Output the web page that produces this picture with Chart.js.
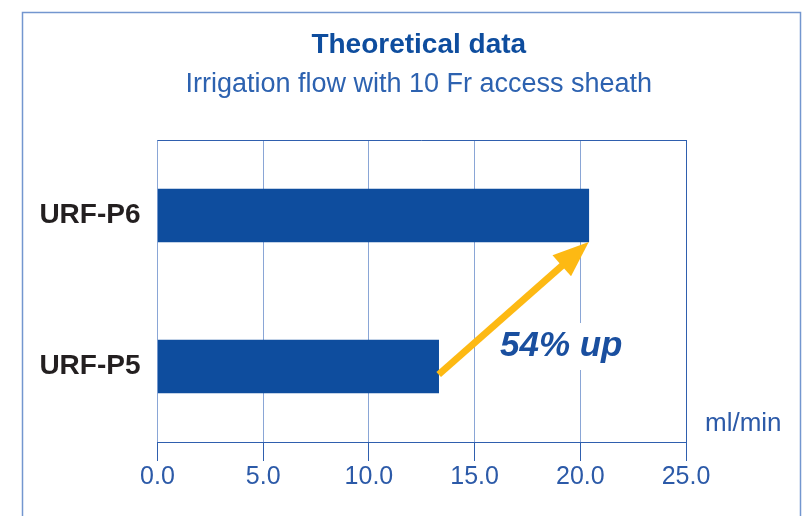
<!doctype html>
<html lang="en">
  <head>
    <meta charset="UTF-8" />
    <title>Irrigation flow</title>
    <script src="https://cdn.jsdelivr.net/npm/chart.js"></script>
    <style>
      html, body { margin: 0; padding: 0; background: #fff; }
      #wrap { width: 804px; height: 516px; }
    </style>
  </head>
  <body>
    <div id="wrap"><canvas id="flow"></canvas></div>

    <script>
      // values (ml/min)
      const categories = ["URF-P6", "URF-P5"];
      const flowValues = [20.4, 13.3];
      const xTickValues = [0, 5, 10, 15, 20, 25];
      const titleText = "Theoretical data";
      const subtitleText = "Irrigation flow with 10 Fr access sheath";
      const gainText = "54% up";
      const gainLabelAt = 16.2; // x value where the "54% up" text starts
      const unitText = "ml/min";

      const FONT = "'Liberation Sans', Arial, sans-serif";
      const BLUE = "#0e4d9e";
      const AXIS_BLUE = "#2f5fae";
      const GRID_BLUE = "#8aa6d6";
      const ORANGE = "#fdb913";

      const decor = {
        id: "decor",
        beforeDraw(chart) {
          const c = chart.ctx;
          c.save();
          c.fillStyle = "#fff";
          c.fillRect(0, 0, chart.width, chart.height);
          c.strokeStyle = "#7396cf";
          c.lineWidth = 1.5;
          c.strokeRect(22.5, 12.5, 778, 530);
          c.restore();
        },
        afterDatasetsDraw(chart) {
          const c = chart.ctx;
          const a = chart.chartArea;
          const x = chart.scales.x;
          const bars = chart.getDatasetMeta(0).data;
          const mid = (a.left + a.right) / 2;
          c.save();

          // titles, centred over the plot
          c.textAlign = "center";
          c.textBaseline = "middle";
          c.fillStyle = BLUE;
          c.font = "bold 28px " + FONT;
          c.fillText(titleText, mid - 3, a.top - 95);
          c.fillStyle = "#2d62b0";
          c.font = "27px " + FONT;
          c.fillText(subtitleText, mid - 3, a.top - 55);

          // top edge of the plot box
          c.strokeStyle = AXIS_BLUE;
          c.lineWidth = 1;
          c.beginPath();
          c.moveTo(a.left, a.top + 0.5);
          c.lineTo(a.right, a.top + 0.5);
          c.stroke();

          // "54% up" with a white patch behind it
          c.font = "italic bold 35px " + FONT;
          c.textAlign = "left";
          const tx = x.getPixelForValue(gainLabelAt);
          const ty = bars[1].y - bars[1].height / 2 + 6;
          const tw = c.measureText(gainText).width;
          c.fillStyle = "#fff";
          c.fillRect(tx - 3, ty - 23, tw + 8, 47);
          c.fillStyle = "#1a4f9f";
          c.fillText(gainText, tx, ty);

          // arrow from the P5 bar end to the P6 bar end
          const p0 = { x: bars[1].x, y: bars[1].y + 8 };
          const p1 = { x: bars[0].x, y: bars[0].y + bars[0].height / 2 };
          const ang = Math.atan2(p1.y - p0.y, p1.x - p0.x);
          const headLen = 36, headHalf = 14;
          const bx = p1.x - headLen * Math.cos(ang);
          const by = p1.y - headLen * Math.sin(ang);
          c.strokeStyle = ORANGE;
          c.fillStyle = ORANGE;
          c.lineWidth = 7;
          c.beginPath();
          c.moveTo(p0.x, p0.y);
          c.lineTo(bx + 2 * Math.cos(ang), by + 2 * Math.sin(ang));
          c.stroke();
          c.beginPath();
          c.moveTo(p1.x, p1.y);
          c.lineTo(bx + headHalf * Math.sin(ang), by - headHalf * Math.cos(ang));
          c.lineTo(bx - headHalf * Math.sin(ang), by + headHalf * Math.cos(ang));
          c.closePath();
          c.fill();

          // unit label
          c.font = "26px " + FONT;
          c.fillStyle = "#2c5aa8";
          c.fillText(unitText, a.right + 19, a.bottom - 18);
          c.restore();
        },
      };

      new Chart(document.getElementById("flow"), {
        type: "bar",
        data: {
          labels: categories,
          datasets: [
            {
              data: flowValues,
              backgroundColor: BLUE,
              borderWidth: 0,
              barThickness: 53,
            },
          ],
        },
        options: {
          indexAxis: "y",
          responsive: true,
          maintainAspectRatio: false,
          animation: false,
          layout: { padding: { left: 0, right: 118, top: 140, bottom: 24 } },
          plugins: {
            legend: { display: false },
            tooltip: { enabled: false },
          },
          scales: {
            x: {
              min: 0,
              max: 25,
              afterBuildTicks: (s) => {
                s.ticks = xTickValues.map((v) => ({ value: v }));
              },
              afterFit: (s) => {
                s.height = 50;
              },
              grid: {
                color: (ctx) =>
                  ctx.index === xTickValues.length - 1 ? AXIS_BLUE : GRID_BLUE,
                tickColor: AXIS_BLUE,
                tickLength: 19,
                lineWidth: 1,
              },
              border: { color: AXIS_BLUE, width: 1 },
              ticks: {
                color: "#2c5aa8",
                padding: 1,
                font: { family: FONT, size: 25 },
                callback: (v) => Number(v).toFixed(1),
              },
            },
            y: {
              afterFit: (s) => {
                s.width = 157.5;
              },
              grid: { display: false, drawTicks: false },
              border: { display: false },
              ticks: {
                color: "#231f20",
                padding: 17,
                font: { family: FONT, size: 28, weight: "bold" },
              },
            },
          },
        },
        plugins: [decor],
      });
    </script>
  </body>
</html>
